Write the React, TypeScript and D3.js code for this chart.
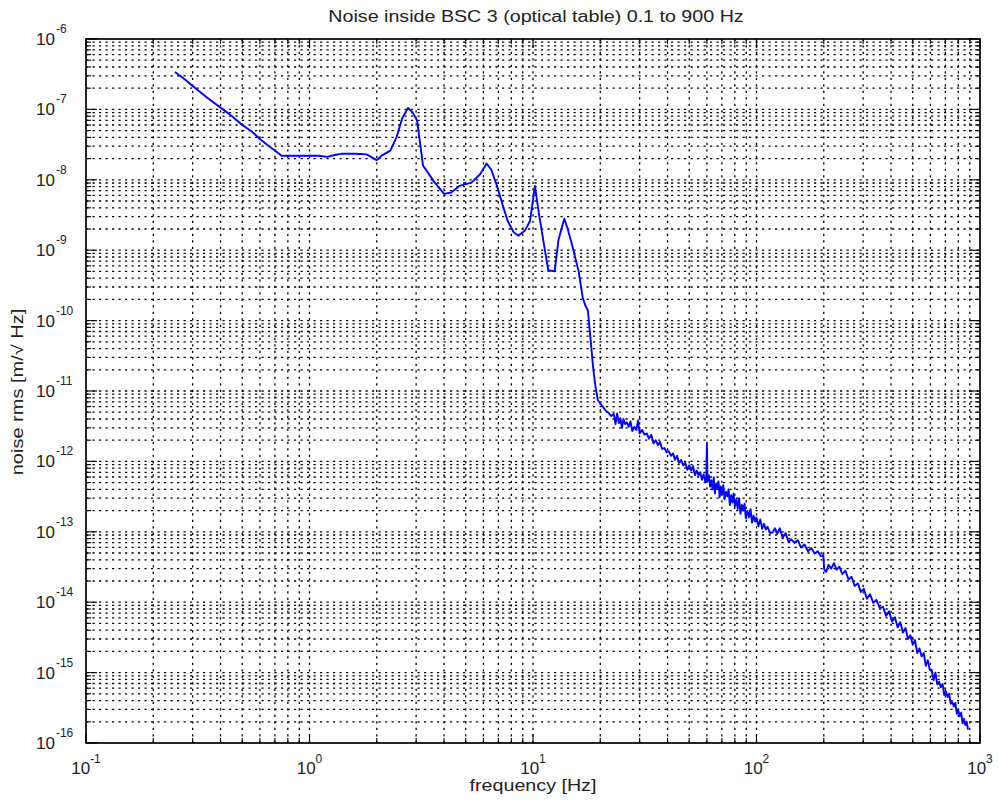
import React from "react";
import * as d3 from "d3";

const TITLE = "Noise inside BSC 3 (optical table) 0.1 to 900 Hz";
const X_LABEL = "frequency [Hz]";
const Y_LABEL = "noise rms [m/\u221A Hz]";
const xTickExponents = [-1, 0, 1, 2, 3];
const yTickExponents = [-16, -15, -14, -13, -12, -11, -10, -9, -8, -7, -6];

// [frequency Hz, noise m/sqrt(Hz)]
const lowBand: [number, number][] = [
  [0.25, 3.4e-7], [0.28, 2.6e-7], [0.3, 2.15e-7], [0.35, 1.45e-7], [0.4, 1.06e-7],
  [0.45, 8.0e-8], [0.5, 6.0e-8], [0.55, 4.9e-8], [0.6, 3.8e-8], [0.65, 3.1e-8],
  [0.7, 2.6e-8], [0.75, 2.2e-8], [0.85, 2.2e-8], [1.0, 2.2e-8], [1.1, 2.2e-8],
  [1.2, 2.12e-8], [1.3, 2.25e-8], [1.4, 2.35e-8], [1.6, 2.35e-8], [1.8, 2.3e-8],
  [2.0, 1.9e-8],
];

const resonanceBand: [number, number][] = [
  [2.1, 2.2e-8], [2.3, 2.6e-8], [2.45, 4.0e-8], [2.6, 7.5e-8], [2.76, 1.05e-7],
  [2.9, 9.0e-8], [3.03, 6.9e-8], [3.22, 1.6e-8], [3.6, 9.5e-9], [4.0, 6.3e-9],
  [4.3, 6.6e-9], [4.7, 8.2e-9], [5.3, 9.1e-9], [5.8, 1.2e-8], [6.2, 1.7e-8],
  [6.5, 1.4e-8], [6.9, 8.2e-9], [7.3, 4.5e-9], [7.7, 2.6e-9], [8.2, 1.8e-9],
  [8.6, 1.6e-9], [9.2, 1.9e-9], [9.7, 2.6e-9], [10.2, 8.2e-9], [10.6, 3.5e-9],
  [11.2, 1.2e-9], [11.7, 5.2e-10], [12.5, 5.0e-10], [13.0, 1.4e-9], [13.8, 2.8e-9],
  [14.3, 2.0e-9], [15.0, 1.15e-9], [16.0, 5.0e-10], [16.7, 2.1e-10], [17.2, 1.6e-10],
  [17.6, 1.4e-10], [18.0, 6.6e-11], [18.6, 2.1e-11], [19.0, 1.2e-11], [19.5, 7.4e-12],
];

const midBand: [number, number][] = [
  [20.6, 5.9e-12], [21.2, 5.2e-12], [21.8, 4.9e-12], [22.4, 4.4e-12], [23.0, 4.7e-12],
  [23.4, 3.4e-12], [23.8, 4.8e-12], [24.2, 3.5e-12], [24.6, 4.1e-12], [25.0, 3.0e-12],
  [25.4, 4.0e-12], [25.8, 3.4e-12], [26.3, 3.6e-12], [26.8, 3.1e-12], [27.3, 3.7e-12],
  [27.8, 2.7e-12], [28.4, 3.1e-12], [29.0, 2.8e-12], [29.5, 3.8e-12], [30.0, 2.5e-12],
  [30.8, 2.8e-12], [31.5, 2.4e-12], [32.3, 2.5e-12], [33.0, 2.1e-12], [33.8, 2.4e-12],
  [34.6, 1.8e-12], [35.4, 2.0e-12], [36.2, 1.7e-12], [37.0, 1.9e-12], [37.8, 1.5e-12],
  [38.7, 1.55e-12], [39.6, 1.35e-12], [40.5, 1.4e-12], [41.4, 1.2e-12], [42.3, 1.3e-12],
  [43.2, 1.05e-12], [44.1, 1.2e-12], [45.0, 9.5e-13], [46.0, 1.05e-12], [47.0, 8.8e-13],
  [48.0, 9.6e-13], [49.0, 7.6e-13], [50.0, 8.8e-13], [51.0, 7.4e-13], [52.0, 8.6e-13],
  [53.0, 6.4e-13], [54.0, 7.4e-13], [55.0, 6.3e-13], [56.0, 7.0e-13], [57.0, 5.5e-13],
  [58.0, 6.6e-13], [59.0, 5.1e-13], [59.6, 5.8e-13], [60.0, 1.8e-12], [60.4, 5.2e-13],
  [61.2, 6.3e-13], [62.0, 4.4e-13], [62.8, 5.4e-13], [63.6, 4.0e-13], [64.4, 5.9e-13],
  [65.2, 3.5e-13], [66.0, 4.8e-13], [66.8, 4.2e-13], [67.6, 5.2e-13], [68.4, 3.1e-13],
  [69.2, 4.4e-13], [70.0, 3.4e-13], [71.0, 4.6e-13], [72.0, 2.9e-13], [73.0, 3.7e-13],
  [74.0, 3.2e-13], [75.0, 4.0e-13], [76.0, 2.4e-13], [77.0, 3.3e-13], [78.0, 2.6e-13],
  [79.0, 3.5e-13], [80.0, 2.3e-13], [81.2, 2.9e-13], [82.4, 2.1e-13], [83.6, 3.0e-13],
  [84.8, 1.8e-13], [86.0, 2.4e-13], [87.2, 2.0e-13], [88.4, 2.5e-13], [89.6, 1.55e-13],
  [91.0, 2.0e-13], [92.5, 1.6e-13], [94.0, 2.1e-13], [95.5, 1.35e-13], [97.0, 1.7e-13],
  [98.5, 1.4e-13], [100, 1.6e-13],
];

const highBand: [number, number][] = [
  [102, 1.2e-13], [104, 1.5e-13], [106, 1.1e-13], [108, 1.3e-13], [110, 1.08e-13],
  [112, 1.18e-13], [115, 9.6e-14], [118, 9.8e-14], [121, 1.12e-13], [124, 9.4e-14],
  [127, 1.12e-13], [131, 8.2e-14], [135, 9.6e-14], [139, 7.2e-14], [143, 7.8e-14],
  [148, 7.0e-14], [153, 7.6e-14], [158, 6.0e-14], [164, 6.6e-14], [170, 5.3e-14],
  [176, 5.9e-14], [182, 4.9e-14], [188, 5.3e-14], [194, 4.5e-14], [199, 4.7e-14],
  [201, 2.9e-14], [205, 2.7e-14], [210, 3.4e-14], [216, 3.0e-14], [222, 3.6e-14],
  [228, 2.9e-14], [235, 3.2e-14], [242, 2.5e-14], [250, 2.8e-14], [258, 2.1e-14],
  [266, 2.3e-14], [275, 1.7e-14], [284, 1.85e-14], [293, 1.4e-14], [302, 1.55e-14],
  [312, 1.12e-14], [322, 1.3e-14], [333, 9.8e-15], [344, 1.08e-14], [356, 8.3e-15],
  [368, 8.6e-15], [380, 6.4e-15], [392, 7.4e-15], [404, 5.3e-15], [416, 6.1e-15],
  [428, 4.4e-15], [440, 5.2e-15], [452, 3.7e-15], [464, 4.3e-15], [476, 3.0e-15],
  [488, 3.4e-15], [500, 2.5e-15], [512, 2.9e-15], [524, 1.9e-15], [536, 2.2e-15],
  [548, 1.7e-15], [560, 1.9e-15], [572, 1.25e-15], [584, 1.5e-15], [596, 1.1e-15],
  [608, 1.1e-15], [620, 7.8e-16], [632, 1.0e-15], [644, 6.8e-16], [656, 7.4e-16],
  [668, 6.2e-16], [680, 6.9e-16], [692, 4.8e-16], [704, 5.4e-16], [716, 4.5e-16],
  [728, 5.0e-16], [740, 3.6e-16], [752, 3.8e-16], [764, 3.3e-16], [776, 3.7e-16],
  [788, 2.6e-16], [800, 2.9e-16], [812, 2.4e-16], [824, 2.7e-16], [836, 1.9e-16],
  [848, 2.2e-16], [860, 1.8e-16], [872, 2.0e-16], [884, 1.55e-16],
];

const FONT = "'Liberation Sans', Arial, Helvetica, sans-serif";

export default function App() {
  const W = 998;
  const H = 805;
  const left = 86, right = 980, top = 39, bottom = 743;

  const x = d3.scaleLog().domain([0.1, 1000]).range([left, right]);
  const y = d3.scaleLog().domain([1e-16, 1e-6]).range([bottom, top]);

  const data = [...lowBand, ...resonanceBand, ...midBand, ...highBand];
  const line = d3
    .line<[number, number]>()
    .x((d) => x(d[0]))
    .y((d) => y(d[1]));

  const xTicks: { v: number; major: boolean }[] = [];
  for (let e = -1; e <= 3; e++) {
    for (let k = 1; k <= 9; k++) {
      const v = k * Math.pow(10, e);
      if (v > 1000 * 1.0001) continue;
      xTicks.push({ v, major: k === 1 });
    }
  }
  const yTicks: { v: number; major: boolean }[] = [];
  for (let e = -16; e <= -6; e++) {
    for (let k = 1; k <= 9; k++) {
      const v = k * Math.pow(10, e);
      if (v > 1e-6 * 1.0001) continue;
      yTicks.push({ v, major: k === 1 });
    }
  }

  const gridStyle = { stroke: "#000", strokeWidth: 1.3, strokeDasharray: "2.2,4.3" };
  const textColor = "#222";

  return (
    <svg
      width={W}
      height={H}
      style={{ position: "absolute", left: 0, top: 0, background: "#fff" }}
      fontFamily={FONT}
    >
      <rect x={0} y={0} width={W} height={H} fill="#fff" />
      {/* grid */}
      <g>
        {xTicks
          .filter((t) => x(t.v) > left + 0.5 && x(t.v) < right - 0.5)
          .map((t, i) => (
            <line key={"gx" + i} x1={x(t.v)} x2={x(t.v)} y1={bottom} y2={top} {...gridStyle} />
          ))}
        {yTicks
          .filter((t) => y(t.v) > top + 0.5 && y(t.v) < bottom - 0.5)
          .map((t, i) => (
            <line key={"gy" + i} x1={left} x2={right} y1={y(t.v)} y2={y(t.v)} {...gridStyle} />
          ))}
      </g>
      {/* ticks */}
      <g stroke="#000" strokeWidth={1.1}>
        {xTicks.map((t, i) => {
          const len = t.major ? 9 : 5;
          const px = x(t.v);
          return (
            <g key={"tx" + i}>
              <line x1={px} x2={px} y1={bottom} y2={bottom - len} />
              <line x1={px} x2={px} y1={top} y2={top + len} />
            </g>
          );
        })}
        {yTicks.map((t, i) => {
          const len = t.major ? 11 : 5;
          const py = y(t.v);
          return (
            <g key={"ty" + i}>
              <line x1={left} x2={left + len} y1={py} y2={py} />
              <line x1={right} x2={right - len} y1={py} y2={py} />
            </g>
          );
        })}
      </g>
      {/* data */}
      <path d={line(data) || ""} fill="none" stroke="#0000ff" strokeWidth={1.9} strokeLinejoin="round" />
      {/* box */}
      <rect x={left} y={top} width={right - left} height={bottom - top} fill="none" stroke="#000" strokeWidth={1.7} />
      {/* x tick labels */}
      {xTickExponents.map((e) => (
        <text
          key={"xl" + e}
          x={x(Math.pow(10, e))}
          y={774}
          textAnchor="middle"
          fontSize={17}
          fill={textColor}
        >
          <tspan>10</tspan>
          <tspan dy={-11} fontSize={12}>{e < 0 ? "-" + Math.abs(e) : String(e)}</tspan>
        </text>
      ))}
      {/* y tick labels */}
      {yTickExponents.map((e) => (
        <text key={"yl" + e} x={36} y={y(Math.pow(10, e)) + 6} fontSize={17} fill={textColor}>
          <tspan>10</tspan>
          <tspan dx={1} dy={-12} fontSize={12}>{"-" + Math.abs(e)}</tspan>
        </text>
      ))}
      {/* title */}
      <text
        transform={`translate(536,22) scale(1.23,1)`}
        textAnchor="middle"
        fontSize={16}
        fill={textColor}
      >
        {TITLE}
      </text>
      {/* x label */}
      <text
        transform={`translate(533,791) scale(1.23,1)`}
        textAnchor="middle"
        fontSize={16}
        fill={textColor}
      >
        {X_LABEL}
      </text>
      {/* y label */}
      <text
        transform={`translate(23,392) rotate(-90) scale(1.25,1)`}
        textAnchor="middle"
        fontSize={16}
        fill={textColor}
      >
        {Y_LABEL}
      </text>
    </svg>
  );
}
